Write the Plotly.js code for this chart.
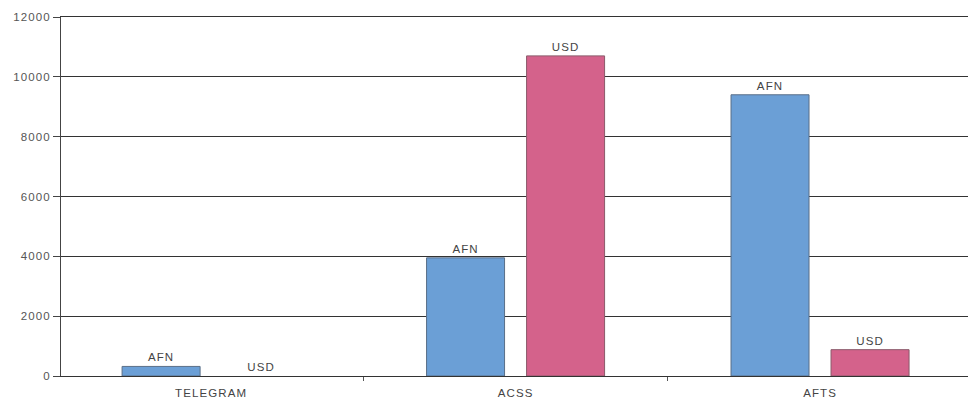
<!DOCTYPE html>
<html>
<head>
<meta charset="utf-8">
<script src="https://cdn.plot.ly/plotly-3.0.1.min.js"></script>
<style>
html,body{margin:0;padding:0;background:#fff;}
#chart{width:968px;height:405px;}
#chart text{letter-spacing:1.1px;}
</style>
</head>
<body>
<div id="chart"></div>
<script>
const categories = ["TELEGRAM", "ACSS", "AFTS"];
const afnValues = [320, 3950, 9400];
const usdValues = [0, 10700, 880];
const afnLabels = ["AFN", "AFN", "AFN"];
const usdLabels = ["USD", "USD", "USD"];
const yTicks = [0, 2000, 4000, 6000, 8000, 10000, 12000];

const textFont = {family: "Liberation Sans, Arial, sans-serif", size: 11.5, color: "#444"};

const traces = [
  {
    type: "bar", name: "AFN", x: categories, y: afnValues,
    text: afnLabels, textposition: "outside", cliponaxis: false,
    textfont: textFont,
    marker: {color: "#6b9fd6", line: {color: "#5a6f88", width: 1}},
    hoverinfo: "x+y"
  },
  {
    type: "bar", name: "USD", x: categories, y: usdValues,
    text: usdLabels, textposition: "outside", cliponaxis: false,
    textfont: textFont,
    marker: {color: "#d4628b", line: {color: "#8a5a6a", width: [0, 1, 1]}},
    hoverinfo: "x+y"
  }
];

const layout = {
  width: 968, height: 405,
  margin: {l: 61, r: 0, t: 17, b: 29},
  paper_bgcolor: "#ffffff",
  plot_bgcolor: "#ffffff",
  showlegend: false,
  barmode: "group",
  bargap: 0.343,
  bargroupgap: 0.22,
  font: {family: "Liberation Sans, Arial, sans-serif", size: 11.5, color: "#444"},
  xaxis: {
    type: "category",
    range: [-0.493, 2.486],
    showgrid: false,
    ticks: "outside", tickson: "boundaries", ticklen: 4, tickcolor: "#555",
    ticklabelstandoff: 6,
    showline: true, linecolor: "#333", linewidth: 1, mirror: true,
    tickfont: {size: 11.5, color: "#444"},
    zeroline: false
  },
  yaxis: {
    range: [0, 12000],
    tickvals: yTicks,
    ticktext: yTicks.map(String),
    showgrid: true, gridcolor: "#333", gridwidth: 1,
    ticks: "outside", ticklen: 7, tickcolor: "#444",
    showline: true, linecolor: "#444", linewidth: 1,
    zeroline: false,
    tickfont: {size: 11.5, color: "#555"}
  }
};

Plotly.newPlot("chart", traces, layout, {displayModeBar: false, staticPlot: true});
</script>
</body>
</html>
